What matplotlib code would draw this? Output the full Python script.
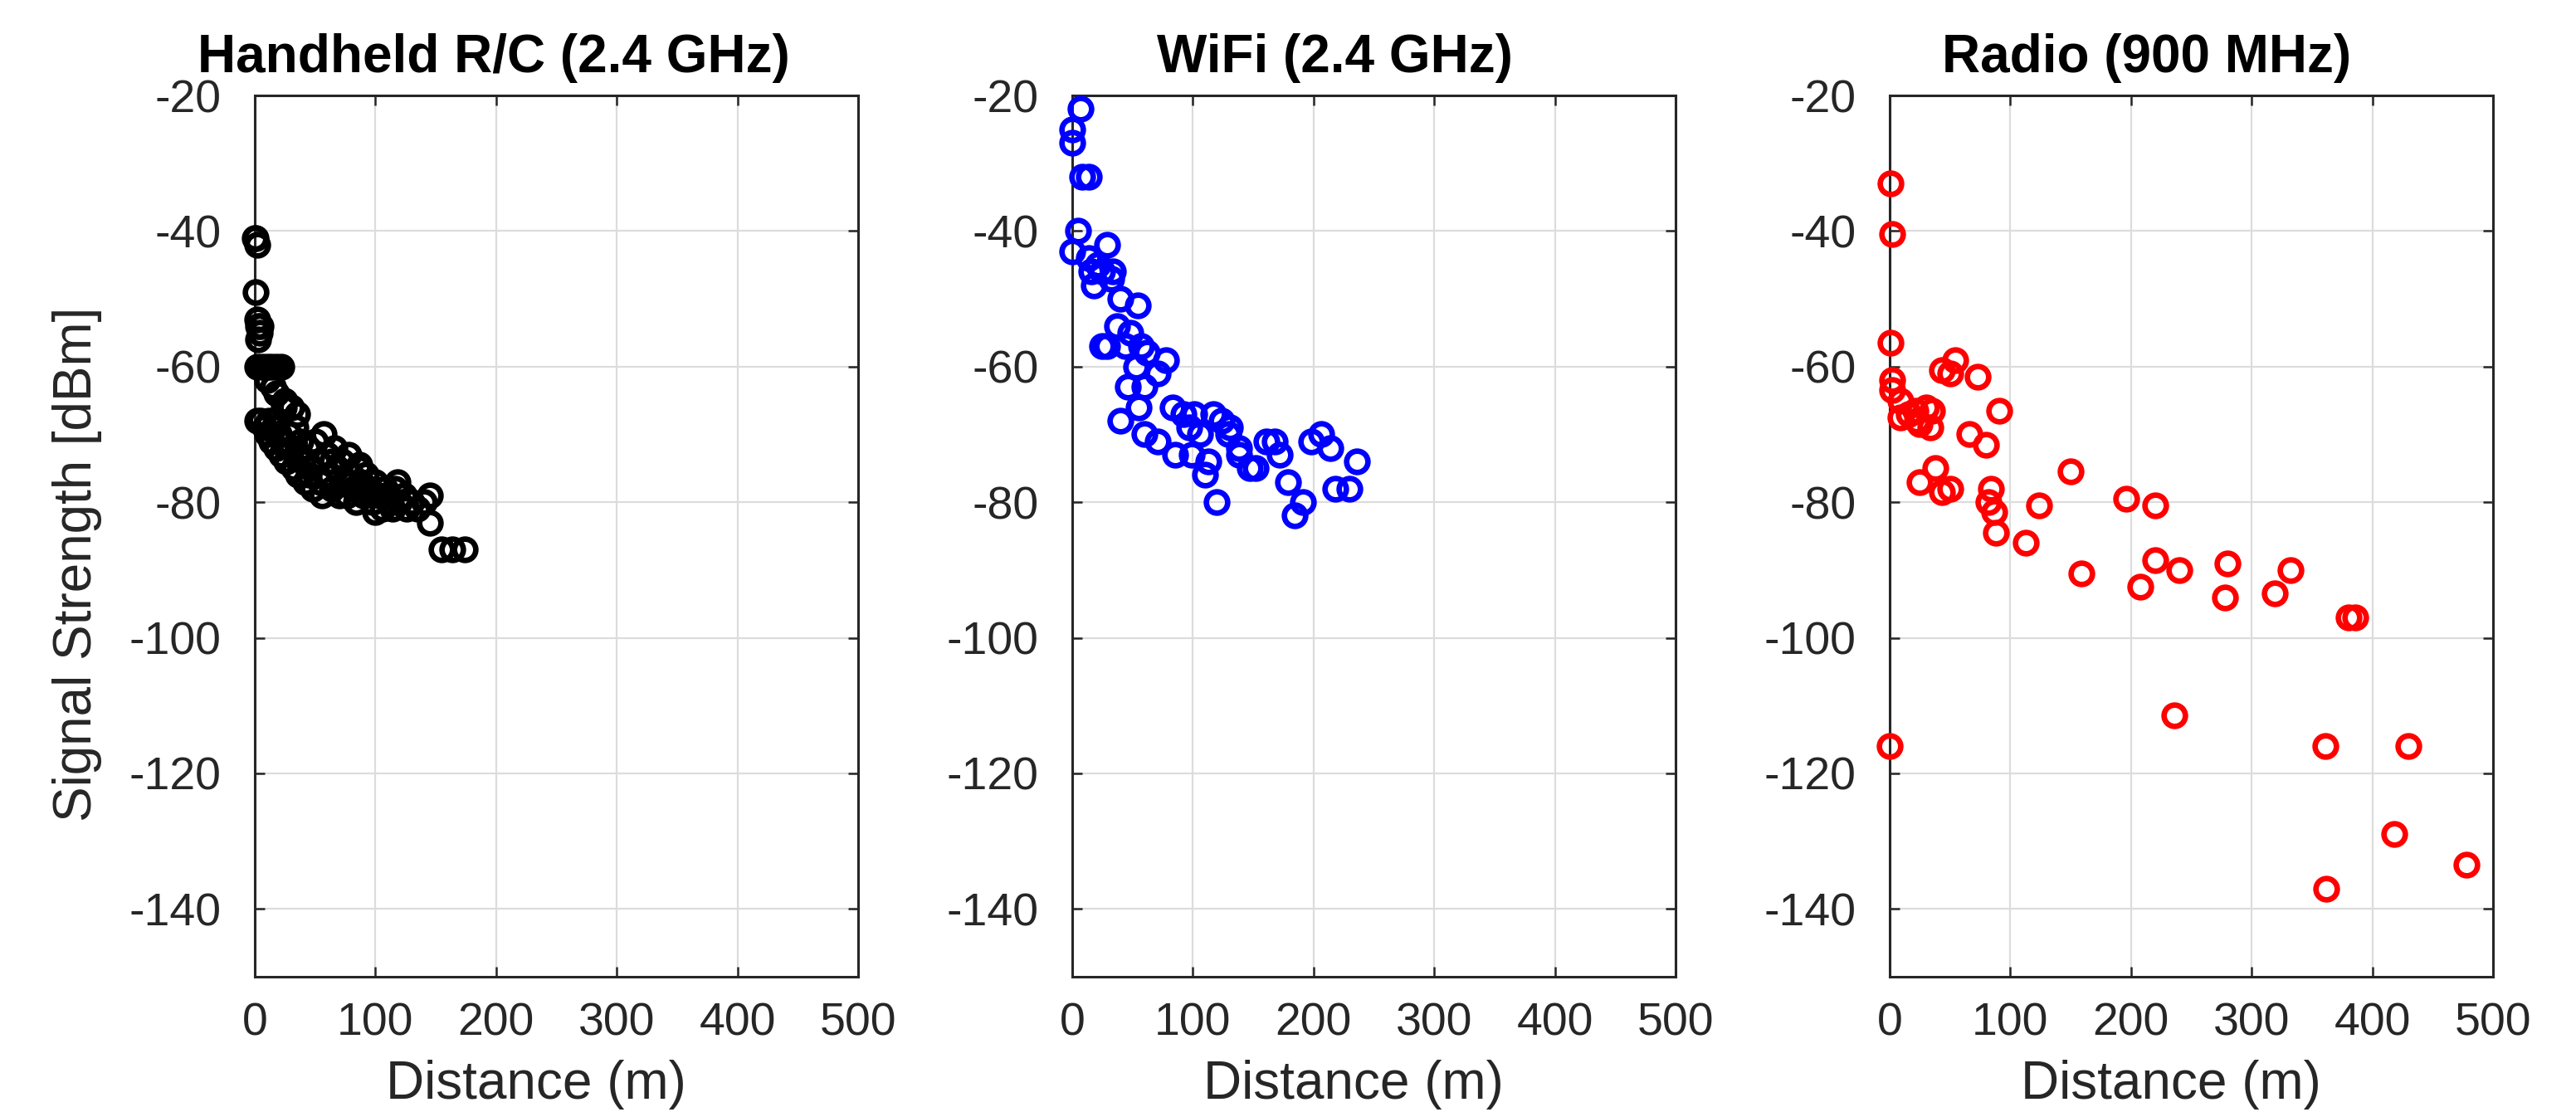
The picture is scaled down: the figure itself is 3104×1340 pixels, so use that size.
import matplotlib
matplotlib.use("Agg")
import matplotlib.pyplot as plt

plt.rcParams['font.family'] = ['Liberation Sans', 'DejaVu Sans']
plt.rcParams['axes.unicode_minus'] = False

# ---------------- data ----------------
titles = ["Handheld R/C (2.4 GHz)", "WiFi (2.4 GHz)", "Radio (900 MHz)"]
colors = ["#000000", "#0000ff", "#ff0000"]
x_ticks = [0, 100, 200, 300, 400, 500]
y_ticks = [-140, -120, -100, -80, -60, -40, -20]

rc_dist = [0, 1, 2, 1, 2, 3, 4, 5, 3, 2, 6, 10, 14, 18, 22, 10, 18, 30, 2, 24,
           5, 8, 10, 12, 14, 16, 18, 20, 22, 24, 26, 28, 30, 32, 34, 35, 36, 38, 40, 42,
           44, 46, 48, 50, 52, 54, 56, 57, 60, 62, 64, 66, 68, 70, 72, 74, 76, 78, 80, 82,
           84, 86, 88, 90, 92, 95, 98, 100, 103, 106, 108, 112, 114, 116, 120, 124, 126, 130, 135, 140,
           64, 87, 89, 100, 145, 145, 155, 164, 174, 15, 25, 35, 45, 110, 118]
rc_sig = [-41, -41, -42, -49, -53, -54, -55, -54, -56, -60, -60, -60, -60, -60, -60, -62, -64, -66, -68, -66,
          -68, -69, -70, -68, -71, -69, -72, -70, -73, -71, -74, -70, -72, -75, -69, -73, -76, -71, -74, -77,
          -72, -75, -78, -71, -74, -77, -79, -70, -73, -76, -78, -72, -75, -79, -74, -77, -79, -73, -76, -78,
          -80, -75, -77, -79, -76, -78, -80, -77, -79, -81, -78, -80, -81, -78, -80, -79, -81, -80, -81, -80,
          -74, -74.5, -78, -81.4, -79, -83, -87, -87, -87, -63, -65, -67, -76, -79, -77]

wifi_dist = [7, 0, 0, 8, 14, 5, 0, 29, 14, 21, 16, 34, 32, 18, 25,
             40, 54, 37, 48, 25, 29, 44, 57, 62, 78, 71, 53, 46, 55, 40, 60,
             83, 92, 101, 117, 124, 131, 60, 71, 85, 99, 113, 110, 120, 138, 147, 152,
             161, 168, 172, 179, 191, 184, 198, 206, 214, 236, 218, 230, 138, 129, 97, 106]
wifi_sig = [-22, -25, -27, -32, -32, -40, -43, -42, -44, -45, -46, -46, -47, -48, -46,
            -50, -51, -54, -55, -57, -57, -57, -57, -58, -59, -61, -60, -63, -66, -68, -63,
            -66, -67, -67, -67, -68, -69, -70, -71, -73, -73, -74, -76, -80, -73, -75, -75,
            -71, -71, -73, -77, -80, -82, -71, -70, -72, -74, -78, -78, -72, -70, -69, -70]

radio_dist = [1, 2, 1, 2, 2, 9, 16, 9, 23, 30, 35, 21, 34, 25,
              43, 54, 50, 73, 91, 66, 80, 38, 25, 43, 50, 84, 82, 87, 88,
              124, 113, 150, 159, 196, 220, 220, 240, 208, 280, 278, 332, 319,
              380, 386, 236, 361, 430, 418, 478, 362, 0]
radio_sig = [-33, -40.5, -56.5, -62, -63.5, -65, -67, -67.5, -68, -66, -66.5, -66.5, -69, -68.5,
             -60.5, -59, -61, -61.5, -66.5, -70, -71.5, -75, -77, -78.5, -78, -78, -80, -81.5, -84.5,
             -80.5, -86, -75.5, -90.5, -79.5, -80.5, -88.5, -90, -92.5, -89, -94, -90, -93.5,
             -97, -97, -111.5, -116, -116, -129, -133.5, -137, -116]

datasets = [(rc_dist, rc_sig), (wifi_dist, wifi_sig), (radio_dist, radio_sig)]

# ---------------- figure ----------------
W, H = 3104, 1340
fig = plt.figure(figsize=(W / 100, H / 100), dpi=100)
lefts = [307, 1292, 2277]
ax_w = 727
top_px, bot_px = 115, 1177
title_x = [0.396, 0.435, 0.426]
ink = '#262626'

for i, ((xd, yd), title, col) in enumerate(zip(datasets, titles, colors)):
    ax = fig.add_axes([lefts[i] / W, 1 - bot_px / H, ax_w / W, (bot_px - top_px) / H])
    ax.plot(xd, yd, linestyle='none', marker='o', markersize=18.5,
            markerfacecolor='none', markeredgecolor=col, markeredgewidth=4.8,
            clip_on=False, zorder=3)
    ax.set_xlim(0, 500)
    ax.set_ylim(-150, -20)
    ax.set_xticks(x_ticks)
    ax.set_yticks(y_ticks)
    ax.grid(True, color='#dcdcdc', linewidth=1.6)
    ax.set_axisbelow(True)
    ax.tick_params(direction='in', length=8.6, width=1.8, top=True, right=True,
                   labelsize=40, colors=ink)
    ax.tick_params(axis='x', pad=22)
    ax.tick_params(axis='y', pad=29)
    for s in ax.spines.values():
        s.set_linewidth(2.2)
        s.set_color(ink)
    ax.set_xlabel("Distance (m)", fontsize=46, color=ink)
    ax.xaxis.set_label_coords(0.466, -0.094)
    if i == 0:
        ax.set_ylabel("Signal Strength [dBm]", fontsize=46, color=ink)
        ax.yaxis.set_label_coords(-0.253, 0.468)
    ax.set_title(title, fontsize=46, fontweight='bold', x=title_x[i], pad=20)

fig.savefig("out.png", dpi=100, facecolor='white')
